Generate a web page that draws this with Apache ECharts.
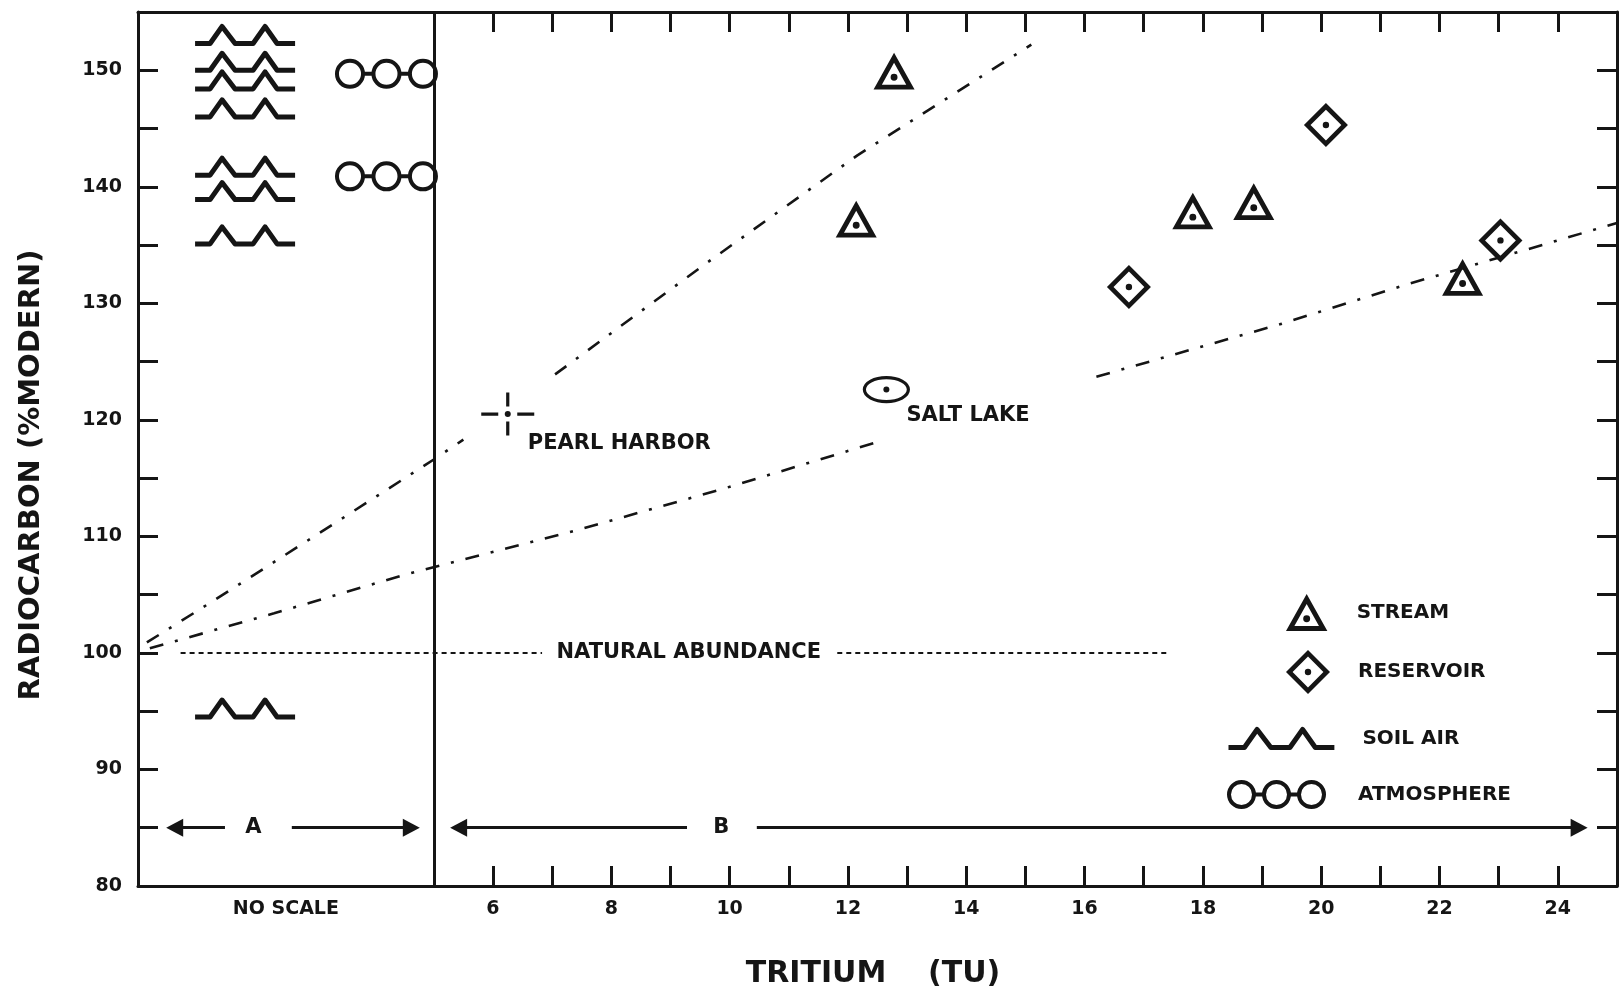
<!DOCTYPE html>
<html>
<head>
<meta charset="utf-8">
<title>Tritium vs. radiocarbon</title>
<script src="https://cdn.jsdelivr.net/npm/echarts@6/dist/echarts.min.js"></script>
<style>
  html, body { margin: 0; padding: 0; background: #fff; }
  #chart { width: 1620px; height: 994px; }
</style>
</head>
<body>
<div id="chart"></div>
<script>
// ---------- data ----------
const xTicks = [6, 7, 8, 9, 10, 11, 12, 13, 14, 15, 16, 17, 18, 19, 20, 21, 22, 23, 24];
const xTickLabels = [6, 8, 10, 12, 14, 16, 18, 20, 22, 24];
const yTickLabels = [80, 90, 100, 110, 120, 130, 140, 150];
const noScaleAt = 2.5;
const noScaleLabel = 'NO SCALE';

// tritium (TU), radiocarbon (% modern)
const streamPoints = [[12.78, 149.4], [12.14, 136.7], [17.83, 137.4], [18.86, 138.2], [22.39, 131.7]];
const reservoirPoints = [[20.08, 145.3], [16.75, 131.4], [23.03, 135.4]];
// section A has no tritium scale: symbols are only stacked by radiocarbon
const soilAirPoints = [[1.81, 152.3], [1.81, 150.0], [1.81, 148.4], [1.81, 146.0], [1.81, 141.0], [1.81, 138.9], [1.81, 135.1], [1.81, 94.5]];
const atmospherePoints = [[4.2, 149.7], [4.2, 140.9]];
const pearlHarborPoint = [6.25, 120.5];
const saltLakePoint = [12.65, 122.6];

// hand-drawn trend lines (broken where they pass the site labels)
const upperTrendA = [[0.15, 100.9], [1.0, 103.6], [1.9, 106.5], [3.5, 111.7], [5.0, 116.6], [5.5, 118.3]];
const upperTrendB = [[7.05, 123.9], [9.54, 133.2], [12.16, 142.7], [15.1, 152.2]];
const lowerTrendA = [[0.2, 100.4], [2.3, 103.4], [4.5, 106.7], [7.4, 110.5], [9.9, 114.1], [12.5, 118.1]];
const lowerTrendB = [[16.2, 123.7], [19.3, 128.2], [21.5, 131.7], [23.8, 135.1], [25.0, 136.9]];

const naturalAbundance = 100;
const abundanceSpans = [[0.72, 6.83], [11.82, 17.4]];
const sectionDivider = 5;
const rangeArrowLevel = 85;
const rangeArrows = [[0.62, 1.47], [4.62, 2.6], [5.42, 9.28], [24.36, 10.46]];
const centeredNotes = [
  { text: 'NATURAL ABUNDANCE', at: [9.31, 100] },
  { text: 'A', at: [1.95, 85] },
  { text: 'B', at: [9.86, 85] }
];
const siteNotes = [
  { text: 'PEARL HARBOR', at: [6.59, 118.0] },
  { text: 'SALT LAKE', at: [12.99, 120.4] }
];

// ---------- styling ----------
const INK = '#151515';
const FONT = '"DejaVu Sans", "Liberation Sans", sans-serif';
const X_MIN = 0, X_MAX = 25, Y_MIN = 80, Y_MAX = 155;

// solid glyphs: outer outline, reversed inner outline (hole), centre dot
const TRIANGLE = 'path://M19,0 L38,34 L0,34 Z M19,9.2 L7.7,29.5 L30.3,29.5 Z ' +
  'M15.8,22.7 A3.2,3.2 0 1,1 22.2,22.7 A3.2,3.2 0 1,1 15.8,22.7 Z';
const DIAMOND = 'path://M22,0 L44,22 L22,44 L0,22 Z M22,6.6 L6.6,22 L22,37.4 L37.4,22 Z ' +
  'M18.8,22 A3.2,3.2 0 1,1 25.2,22 A3.2,3.2 0 1,1 18.8,22 Z';
// stroked glyphs
const SOIL = 'path://M0,17 L15,17 L27,0 L40,17 L58,17 L70,0 L82,17 L100,17';
const RINGS = 'path://M0,12.5 A12.5,12.5 0 1,1 25,12.5 A12.5,12.5 0 1,1 0,12.5 Z M25,12.5 L35,12.5 ' +
  'M35,12.5 A12.5,12.5 0 1,1 60,12.5 A12.5,12.5 0 1,1 35,12.5 Z M60,12.5 L70,12.5 ' +
  'M70,12.5 A12.5,12.5 0 1,1 95,12.5 A12.5,12.5 0 1,1 70,12.5 Z';
const CROSS = 'path://M0,21.5 L17,21.5 M36,21.5 L53,21.5 M26.5,0 L26.5,14 M26.5,29 L26.5,43';
const ELLIPSE = 'path://M0,12 A22,12 0 1,1 44,12 A22,12 0 1,1 0,12 Z';

const textBold = (size) => ({ fontFamily: FONT, fontWeight: 'bold', fontSize: size, color: INK });
const outline = (w) => ({ color: 'transparent', borderColor: INK, borderWidth: w, borderJoin: 'round', opacity: 1 });
const solid = () => ({ color: INK, borderWidth: 0, opacity: 1 });

// square symbol box + kept aspect => uniform scaling, so stroke widths stay even
function glyphSeries(name, data, symbol, size, offset, style) {
  return {
    name, type: 'scatter', data, symbol, symbolSize: size, symbolOffset: offset,
    symbolKeepAspect: true, itemStyle: style, emphasis: { disabled: true }, silent: true
  };
}

function trendSeries(points) {
  return {
    type: 'line', data: points, symbol: 'none', showSymbol: false, silent: true,
    lineStyle: { color: INK, width: 2.6, type: [14, 12, 3, 12] }, emphasis: { disabled: true }
  };
}

function noteSeries(notes, labelPos, size) {
  return {
    type: 'scatter', silent: true, symbolSize: 0,
    itemStyle: { color: 'transparent', opacity: 1 },
    data: notes.map((n) => ({ name: n.text, value: n.at })),
    label: Object.assign({ show: true, position: labelPos, distance: 0, formatter: (p) => p.name }, textBold(size))
  };
}

const frameAxis = {
  type: 'value', splitLine: { show: false },
  axisLine: { show: true, onZero: false, lineStyle: { color: INK, width: 3 } }
};

const legendBase = {
  orient: 'vertical', padding: 0, itemGap: 0, selectedMode: false,
  textStyle: textBold(20)
};

const guideSeries = noteSeries(centeredNotes, 'inside', 21);
guideSeries.markLine = {
  silent: true, symbol: 'none', symbolSize: [18, 17], animation: false,
  label: { show: false }, emphasis: { disabled: true },
  lineStyle: { color: INK, width: 3, type: 'solid' },
  data: [
    [{ coord: [sectionDivider, Y_MIN] }, { coord: [sectionDivider, Y_MAX] }]
  ].concat(
    abundanceSpans.map(([a, b]) => [
      { coord: [a, naturalAbundance], lineStyle: { color: INK, width: 2, type: [5, 4] } },
      { coord: [b, naturalAbundance] }
    ]),
    rangeArrows.map(([tip, end]) => [
      { coord: [tip, rangeArrowLevel], symbol: 'triangle', lineStyle: { color: INK, width: 3 } },
      { coord: [end, rangeArrowLevel], symbol: 'none' }
    ])
  )
};

const option = {
  backgroundColor: '#ffffff',
  animation: false,
  grid: { left: 138, right: 3, top: 12, bottom: 108, outerBoundsMode: 'none' },
  xAxis: [
    Object.assign({}, frameAxis, {
      min: X_MIN, max: X_MAX, interval: 1, position: 'bottom',
      axisTick: { show: true, inside: true, length: 20, customValues: xTicks, lineStyle: { color: INK, width: 3 } },
      axisLabel: Object.assign({
        show: true, margin: 14, customValues: [noScaleAt].concat(xTickLabels),
        formatter: (v) => (v === noScaleAt ? noScaleLabel : String(v))
      }, textBold(19))
    }),
    Object.assign({}, frameAxis, {
      min: X_MIN, max: X_MAX, interval: 1, position: 'top',
      axisTick: { show: true, inside: true, length: 20, customValues: xTicks, lineStyle: { color: INK, width: 3 } },
      axisLabel: { show: false }
    })
  ],
  yAxis: [
    Object.assign({}, frameAxis, {
      min: Y_MIN, max: Y_MAX, interval: 5, position: 'left',
      axisTick: { show: true, inside: true, length: 20, lineStyle: { color: INK, width: 3 } },
      axisLabel: Object.assign({ show: true, margin: 16, customValues: yTickLabels }, textBold(19))
    }),
    Object.assign({}, frameAxis, {
      min: Y_MIN, max: Y_MAX, interval: 5, position: 'right',
      axisTick: { show: true, inside: true, length: 20, lineStyle: { color: INK, width: 3 } },
      axisLabel: { show: false }
    })
  ],
  legend: [
    Object.assign({}, legendBase, {
      left: 1286, top: 594, itemWidth: 90, itemHeight: 37,
      itemStyle: solid(), data: [{ name: 'STREAM', icon: TRIANGLE }]
    }),
    Object.assign({}, legendBase, {
      left: 1286, top: 650, itemWidth: 90, itemHeight: 44,
      itemStyle: solid(), data: [{ name: 'RESERVOIR', icon: DIAMOND }]
    }),
    Object.assign({}, legendBase, {
      left: 1226, top: 727, itemWidth: 152, itemHeight: 18,
      itemStyle: outline(5), data: [{ name: 'SOIL AIR', icon: SOIL }]
    }),
    Object.assign({}, legendBase, {
      left: 1227, top: 780, itemWidth: 153, itemHeight: 25,
      itemStyle: outline(4), data: [{ name: 'ATMOSPHERE', icon: RINGS }]
    })
  ],
  graphic: [
    {
      type: 'text', x: 31, y: 475, rotation: Math.PI / 2, silent: true,
      style: { text: 'RADIOCARBON (%MODERN)', font: 'bold 29px ' + FONT, fill: INK, align: 'center', verticalAlign: 'middle' }
    },
    {
      type: 'text', x: 873, y: 974, silent: true,
      style: { text: 'TRITIUM    (TU)', font: 'bold 30px ' + FONT, fill: INK, align: 'center', verticalAlign: 'middle' }
    }
  ],
  series: [
    trendSeries(upperTrendA),
    trendSeries(upperTrendB),
    trendSeries(lowerTrendA),
    trendSeries(lowerTrendB),
    guideSeries,
    noteSeries(siteNotes, 'right', 21),
    glyphSeries('STREAM', streamPoints, TRIANGLE, 41, [0, -6.1], solid()),
    glyphSeries('RESERVOIR', reservoirPoints, DIAMOND, 44, [0, 0], solid()),
    glyphSeries('SOIL AIR', soilAirPoints, SOIL, 100, [0, -8.5], outline(5)),
    glyphSeries('ATMOSPHERE', atmospherePoints, RINGS, 99, [0, 0], outline(4)),
    glyphSeries('PEARL HARBOR', [pearlHarborPoint], CROSS, 53, [0, 0], outline(3.2)),
    glyphSeries('SALT LAKE', [saltLakePoint], ELLIPSE, 44, [0, 0], outline(3.2)),
    // centre dots of the two site markers
    glyphSeries('site centres', [pearlHarborPoint, saltLakePoint], 'circle', 6, [0, 0], solid())
  ]
};

const chart = echarts.init(document.getElementById('chart'));
chart.setOption(option);
</script>
</body>
</html>
